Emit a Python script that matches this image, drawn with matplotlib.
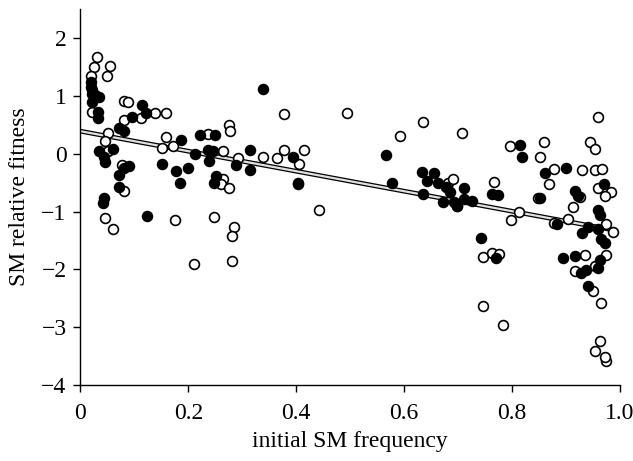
import numpy as np
import matplotlib
matplotlib.use("Agg")
import matplotlib.pyplot as plt

plt.rcParams['font.family'] = ['Liberation Serif', 'DejaVu Serif']

# filled circles (initial SM frequency, SM relative fitness)
filled_x = [0.019, 0.020, 0.022, 0.035, 0.022, 0.033, 0.032, 0.071, 0.080, 0.095, 0.115, 0.122,
            0.035, 0.061, 0.043, 0.046, 0.071, 0.080, 0.091, 0.071, 0.043, 0.041, 0.124,
            0.152, 0.187, 0.178, 0.200, 0.184, 0.212, 0.221, 0.249, 0.236, 0.245, 0.239, 0.252,
            0.247, 0.288, 0.315, 0.315, 0.339, 0.395, 0.404,
            0.566, 0.577, 0.633, 0.655, 0.642, 0.664, 0.635, 0.677, 0.686, 0.673, 0.692, 0.699,
            0.712, 0.711, 0.727, 0.742, 0.764, 0.774, 0.770, 0.815, 0.818, 0.861, 0.853,
            0.900, 0.917, 0.922, 0.970, 0.959, 0.963, 0.883, 0.942, 0.931, 0.959, 0.965, 0.972,
            0.894, 0.917, 0.963, 0.959, 0.928, 0.937, 0.942]
filled_y = [1.24, 1.15, 1.03, 0.98, 0.90, 0.72, 0.62, 0.44, 0.39, 0.63, 0.84, 0.70,
            0.04, 0.09, -0.06, -0.15, -0.36, -0.25, -0.22, -0.57, -0.76, -0.85, -1.08,
            -0.18, 0.23, -0.30, -0.24, -0.50, -0.01, 0.33, 0.32, 0.06, 0.04, -0.13, -0.38,
            -0.50, -0.19, 0.06, -0.29, 1.12, -0.05, -0.51,
            -0.03, -0.51, -0.31, -0.33, -0.48, -0.50, -0.69, -0.58, -0.67, -0.83, -0.83, -0.90,
            -0.60, -0.79, -0.81, -1.45, -0.69, -0.72, -1.80, 0.15, -0.06, -0.33, -0.76,
            -0.25, -0.64, -0.73, -0.52, -0.97, -1.06, -1.22, -1.26, -1.38, -1.30, -1.48, -1.54,
            -1.80, -1.77, -1.84, -1.97, -2.07, -2.02, -2.28]

# open circles
open_x = [0.030, 0.026, 0.020, 0.022, 0.028, 0.022, 0.054, 0.050, 0.080, 0.089, 0.113, 0.139,
          0.080, 0.052, 0.045, 0.052, 0.077, 0.080, 0.045, 0.061,
          0.158, 0.159, 0.151, 0.171, 0.236, 0.275, 0.277, 0.264, 0.264, 0.260, 0.275, 0.293,
          0.338, 0.365, 0.377, 0.378, 0.176, 0.247, 0.284, 0.282, 0.211, 0.282, 0.414, 0.406,
          0.404, 0.442, 0.494,
          0.592, 0.636, 0.681, 0.690, 0.699, 0.707, 0.766, 0.746, 0.763, 0.776, 0.746, 0.783,
          0.796, 0.859, 0.853, 0.868, 0.848, 0.814, 0.798,
          0.959, 0.944, 0.954, 0.879, 0.931, 0.955, 0.968, 0.959, 0.983, 0.972, 0.926, 0.913,
          0.905, 0.879, 0.974, 0.987, 0.935, 0.974, 0.954, 0.917, 0.950, 0.965, 0.963, 0.954,
          0.974, 0.972]
open_y = [1.68, 1.50, 1.35, 1.10, 1.01, 0.72, 1.51, 1.35, 0.91, 0.90, 0.62, 0.70,
          0.59, 0.36, 0.22, 0.05, -0.20, -0.64, -1.12, -1.31,
          0.70, 0.29, 0.10, 0.13, 0.34, 0.49, 0.39, 0.04, -0.43, -0.52, -0.60, -0.08,
          -0.05, -0.08, 0.07, 0.68, -1.14, -1.10, -1.26, -1.43, -1.91, -1.85, 0.06, -0.17,
          -0.52, -0.97, 0.70,
          0.31, 0.55, -0.50, -0.43, -0.91, 0.35, -0.49, -1.78, -1.71, -1.74, -2.63, -2.97,
          0.13, 0.20, -0.05, -0.53, -0.77, -1.01, -1.15,
          0.63, 0.20, 0.08, -0.27, -0.29, -0.29, -0.26, -0.60, -0.67, -0.74, -0.75, -0.93,
          -1.13, -1.19, -1.21, -1.35, -1.75, -1.75, -1.95, -2.03, -2.38, -2.58, -3.24, -3.41,
          -3.58, -3.52]

# regression line
fit_intercept = 0.39
fit_slope = -1.73
fit_range = [0.0, 0.985]

fig = plt.figure(figsize=(6.33, 4.61), dpi=100)
ax = fig.add_axes([0.127, 0.165, 0.852, 0.815])

lx = np.array(fit_range)
ly = fit_intercept + fit_slope * lx
ax.plot(lx, ly, color='black', lw=3.4, solid_capstyle='butt', zorder=2)
ax.plot(lx, ly, color='#e0e0e0', lw=1.6, solid_capstyle='butt', zorder=2)

ax.scatter(open_x, open_y, s=50, facecolor='white', edgecolor='black', linewidth=1.2, zorder=3)
ax.scatter(filled_x, filled_y, s=50, facecolor='black', edgecolor='black', linewidth=1.2, zorder=4)

ax.set_xlim(0, 1.0)
ax.set_ylim(-4, 2.5)
ax.set_xticks([0, 0.2, 0.4, 0.6, 0.8, 1.0])
ax.set_xticklabels(['0', '0.2', '0.4', '0.6', '0.8', '1.0'])
ax.set_yticks([-4, -3, -2, -1, 0, 1, 2])
ax.set_yticklabels(['\u22124', '\u22123', '\u22122', '\u22121', '0', '1', '2'])

for s in ['top', 'right']:
    ax.spines[s].set_visible(False)
for s in ['left', 'bottom']:
    ax.spines[s].set_linewidth(1.0)
ax.tick_params(direction='out', length=5, width=1.0, labelsize=17)
ax.tick_params(axis='x', pad=8)
ax.tick_params(axis='y', pad=5)

ax.set_xlabel('initial SM frequency', fontsize=17, labelpad=5)
ax.set_ylabel('SM relative fitness', fontsize=17, labelpad=8)

fig.savefig('out.png', dpi=100)
